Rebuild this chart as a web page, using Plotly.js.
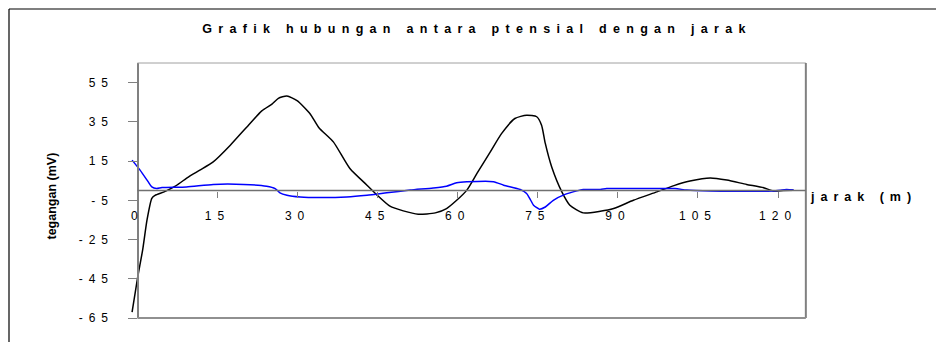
<!DOCTYPE html>
<html>
<head>
<meta charset="utf-8">
<script src="https://cdn.plot.ly/plotly-3.0.1.min.js"></script>
<style>
  html, body { margin: 0; padding: 0; background: #fff; }
  #chart { width: 936px; height: 342px; }
  .xtick text, .ytick text { letter-spacing: 6px; }
  .gtitle { letter-spacing: 6.3px; }
  g.annotation[data-index="0"] text { letter-spacing: 6px; }
</style>
</head>
<body>
<div id="chart"></div>
<script>
// ---- data ----
const chartTitle = "Grafik hubungan antara ptensial dengan jarak";
const xTitle = "jarak (m)";
const yTitle = "tegangan (mV)";

// black series
const blackX = [-1, 0, 1.0, 1.8, 2.7, 3.3, 5.0, 7.1, 9.6, 11.7, 14.2, 17.4, 20.8, 23.3, 25.2, 26.4, 28.0, 29.9, 32.3, 34.0, 36.7, 39.8, 43.0, 44.8, 47.3, 49.8, 52.6, 55.8, 57.9, 59.8, 61.7, 63.6, 66.1, 68.2, 70.7, 72.9, 74.8, 75.7, 76.4, 77.6, 79.5, 81.0, 83.5, 86.7, 89.2, 92.9, 97.3, 100.5, 103.5, 107.3, 110.4, 114.1, 117.3, 119.1, 121.0, 122.9];
const blackY = [-62, -45, -30, -15, -4, -2.5, -0.7, 2.2, 7.0, 10.4, 14.6, 23.1, 33.3, 40.6, 44.0, 47.0, 48.2, 45.8, 39.3, 32.0, 24.8, 11.2, 2.7, -2.1, -8.0, -10.4, -12.1, -11.4, -9.2, -5.0, 0.2, 8.7, 19.7, 29.0, 36.7, 38.4, 37.6, 33.3, 24.0, 12.0, -0.7, -7.5, -11.4, -10.6, -9.2, -5.0, -0.7, 2.5, 4.8, 6.4, 5.3, 3.1, 1.4, -0.2, 0.0, 0.1];

// blue series
const blueX = [-1, 0.5, 2.0, 2.7, 3.6, 4.6, 9.2, 14.2, 19.9, 24.2, 25.8, 26.7, 28.0, 30.5, 34.2, 39.2, 43.0, 46.7, 51.1, 55.4, 57.9, 59.8, 61.7, 66.7, 68.6, 71.7, 72.9, 73.6, 74.2, 75.3, 76.4, 77.9, 80.1, 82.3, 83.5, 86.7, 87.9, 95.4, 100.7, 102.9, 107.3, 119.0, 121.6, 122.9];
const blueY = [15.5, 10.4, 4.5, 1.8, 1.0, 1.5, 1.8, 3.1, 3.1, 2.2, 1.0, -1.2, -2.4, -3.3, -3.6, -3.3, -2.4, -1.2, 0.2, 1.3, 2.2, 3.9, 4.4, 4.5, 2.7, 0.5, -1.5, -4.6, -7.5, -9.5, -8.4, -5.0, -2.0, -0.2, 0.5, 0.5, 1.0, 1.0, 1.0, 0.2, -0.2, -0.2, 0.5, 0.2];

const xTickVals = [0, 15, 30, 45, 60, 75, 90, 105, 120];
const yTickVals = [-65, -45, -25, -5, 15, 35, 55];

// ---- layout geometry ----
const W = 936, H = 342;
const M = { l: 131, r: 130, t: 63, b: 24 };
const xRange = [-1.2, 125.23];
const yRange = [-65, 65];
const pw = W - M.l - M.r, ph = H - M.t - M.b;
const px2paper = p => (p - M.l) / pw;
const py2paper = p => (H - M.b - p) / ph;
const dx2paper = v => (v - xRange[0]) / (xRange[1] - xRange[0]);
const dy2paper = v => (v - yRange[0]) / (yRange[1] - yRange[0]);

const FONT = "Liberation Sans, Arial, sans-serif";

const traces = [
  { x: blackX, y: blackY, mode: "lines", type: "scatter",
    line: { color: "#000000", width: 1.5, shape: "spline", smoothing: 0.6 }, hoverinfo: "skip" },
  { x: blueX, y: blueY, mode: "lines", type: "scatter",
    line: { color: "#0000ff", width: 1.5, shape: "spline", smoothing: 0.6 }, hoverinfo: "skip" }
];

const x0p = dx2paper(0), xEndp = dx2paper(125.2);
const layout = {
  width: W, height: H,
  margin: M,
  paper_bgcolor: "#ffffff", plot_bgcolor: "rgba(0,0,0,0)",
  showlegend: false,
  font: { family: FONT, size: 12, color: "#000" },
  title: { text: chartTitle, font: { family: FONT, size: 12.5, weight: "bold", color: "#000" },
           xref: "container", yref: "container", x: 477 / W, y: (H - 28.3) / H,
           xanchor: "center", yanchor: "middle" },
  xaxis: {
    range: xRange, anchor: "free", position: dy2paper(0),
    showgrid: false, zeroline: false, showline: false,
    tickmode: "array", tickvals: xTickVals, ticktext: xTickVals.map(String),
    ticks: "outside", ticklen: 6, tickwidth: 1, tickcolor: "#808080",
    ticklabelstandoff: 8,
    tickfont: { family: FONT, size: 12, color: "#000" }
  },
  yaxis: {
    range: yRange, anchor: "free", position: x0p,
    showgrid: false, zeroline: false,
    showline: true, linecolor: "#808080", linewidth: 1.5,
    tickmode: "array", tickvals: yTickVals, ticktext: yTickVals.map(String),
    ticks: "outside", ticklen: 9, tickwidth: 1, tickcolor: "#808080",
    ticklabelstandoff: 12,
    tickfont: { family: FONT, size: 12, color: "#000" }
  },
  shapes: [
    // outer chart border (left and top)
    { type: "line", xref: "paper", yref: "paper", x0: px2paper(9), x1: px2paper(9), y0: py2paper(H + 5), y1: py2paper(9), line: { color: "#000", width: 1.2 } },
    { type: "line", xref: "paper", yref: "paper", x0: px2paper(9), x1: px2paper(W + 5), y0: py2paper(9), y1: py2paper(9), line: { color: "#000", width: 1.2 } },
    // plot area frame
    { type: "line", xref: "paper", yref: "paper", x0: x0p, x1: xEndp, y0: 1, y1: 1, line: { color: "#a0a0a0", width: 1 } },
    { type: "line", xref: "paper", yref: "paper", x0: xEndp, x1: xEndp, y0: 0, y1: 1, line: { color: "#808080", width: 2 } },
    { type: "line", xref: "paper", yref: "paper", x0: x0p, x1: xEndp, y0: 0, y1: 0, line: { color: "#909090", width: 2 } },
    // horizontal axis line at y = 0
    { type: "line", xref: "paper", yref: "paper", x0: x0p, x1: xEndp, y0: dy2paper(0), y1: dy2paper(0), line: { color: "#707070", width: 1.5 } }
  ],
  annotations: [
    { text: xTitle, xref: "paper", yref: "paper", x: px2paper(863.5), y: py2paper(196.5),
      xanchor: "center", yanchor: "middle", showarrow: false,
      font: { family: FONT, size: 12.5, weight: "bold", color: "#000" } },
    { text: yTitle, xref: "paper", yref: "paper", x: px2paper(51), y: py2paper(196.5),
      xanchor: "center", yanchor: "middle", showarrow: false, textangle: -90,
      font: { family: FONT, size: 12.5, weight: "bold", color: "#000" } }
  ]
};

Plotly.newPlot("chart", traces, layout, { displayModeBar: false, staticPlot: true });
</script>
</body>
</html>
